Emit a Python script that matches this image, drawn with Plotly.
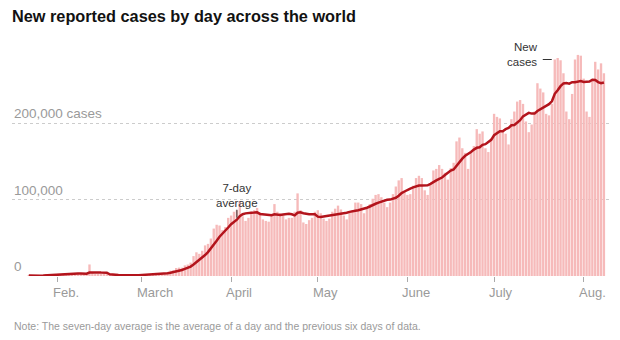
import pandas as pd
import plotly.graph_objects as go

# ---- data ----
start_date = "2020-01-22"
cases_jan = [580, 100, 290, 500, 680, 810, 2650, 590, 2070, 1690]
cases_feb = [2100, 2600, 3200, 3900, 3700, 3200, 3400, 2700, 3000, 2500, 2000,
             15100, 5100,
             2600, 2100, 2000, 1900, 1800, 550, 600, 1000, 1000, 450, 600, 900, 1000, 1300, 1300, 1800]
cases_mar = [1800, 1900, 2400, 2200, 2700, 4000, 3900, 3900, 3900, 4400, 7000, 7500, 10500, 11000,
             10900, 13900, 15000, 17500, 26000, 31000, 29000, 33000, 40000, 42000, 49000, 62000,
             67000, 66000, 60000, 64000, 76000]
cases_apr = [79000, 84000, 86000, 98000, 78000, 72000, 76000, 84000, 86000, 89000, 83000, 74000,
             72000, 71000, 81000, 94000, 84000, 82000, 79000, 74000, 76000, 76000, 84000, 108000,
             86000, 70000, 68000, 73000, 76000, 84000]
cases_may = [86000, 82000, 75000, 72000, 75000, 84000, 88000, 92000, 87000, 79000, 74000, 83000,
             86000, 96000, 96000, 94000, 82000, 88000, 94000, 101000, 106000, 107000, 103000, 96000,
             90000, 96000, 107000, 117000, 125000, 128000, 110000]
cases_jun = [106000, 107000, 118000, 128000, 131000, 128000, 112000, 106000, 120000, 138000, 140000,
             145000, 140000, 135000, 126000, 141000, 148000, 176000, 181000, 167000, 161000, 140000,
             162000, 170000, 192000, 186000, 189000, 167000, 162000, 180000]
cases_jul = [212000, 208000, 206000, 190000, 186000, 172000, 205000, 215000, 228000, 230000, 225000,
             202000, 188000, 198000, 215000, 252000, 245000, 240000, 212000, 210000, 225000, 283000,
             285000, 282000, 265000, 215000, 205000, 238000, 283000, 289000, 288000]
cases_aug = [258000, 215000, 208000, 255000, 280000, 270000, 278000, 265000]

month_ticks = ["2020-02-01", "2020-03-01", "2020-04-01", "2020-05-01", "2020-06-01", "2020-07-01", "2020-08-01"]
month_labels = ["Feb.", "March", "April", "May", "June", "July", "Aug."]
y_ticks = [0, 100000, 200000]
y_labels = ["0", "100,000", "200,000 cases"]

title_text = "New reported cases by day across the world"
note_text = "Note: The seven-day average is the average of a day and the previous six days of data."

# ---- derived ----
cases = cases_jan + cases_feb + cases_mar + cases_apr + cases_may + cases_jun + cases_jul + cases_aug
dates = pd.date_range(start_date, periods=len(cases), freq="D")
avg7 = pd.Series(cases).rolling(7, min_periods=1).mean()

BAR = "#f6baba"
LINE = "#b3141c"
GRAY = "#9a9a9a"
FONT = "Arial, Liberation Sans, sans-serif"

fig = go.Figure()
fig.add_bar(x=dates, y=cases, marker=dict(color=BAR, line=dict(width=0)), hoverinfo="skip")
fig.add_scatter(x=dates, y=avg7, mode="lines", line=dict(color=LINE, width=2.5), hoverinfo="skip")

# layout geometry
W, H = 620, 340
ml, mr, mt, mb = 12, 10, 45, 64
px_per_day = 2.89
first_x = 28.8
t0 = pd.Timestamp(start_date)
x_start = t0 - pd.Timedelta(days=(first_x - ml) / px_per_day)
x_end = x_start + pd.Timedelta(days=(W - ml - mr) / px_per_day)
plot_h = H - mt - mb
y_top = plot_h / 0.765 * 1000

annotations = []
for v, lab in zip(y_ticks, y_labels):
    annotations.append(dict(x=0, xref="paper", y=v, yref="y", text=lab, showarrow=False,
                            xanchor="left", yanchor="bottom", yshift=0,
                            font=dict(family=FONT, size=13.5, color=GRAY)))
for d, lab in zip(month_ticks, month_labels):
    annotations.append(dict(x=d, xref="x", y=-16 / plot_h, yref="paper", text=lab, showarrow=False,
                            xanchor="left", yanchor="middle", xshift=-7,
                            font=dict(family=FONT, size=13, color=GRAY)))
annotations.append(dict(x=0, xref="paper", y=-(326 - (H - mb)) / plot_h, yref="paper", text=note_text,
                        showarrow=False, xanchor="left", yanchor="middle",
                        font=dict(family=FONT, size=10.5, color=GRAY)))

# 7-day average label
i_avg = list(dates).index(pd.Timestamp("2020-04-03"))
annotations.append(dict(x=dates[i_avg], y=avg7[i_avg], xref="x", yref="y", text="7-day<br>average",
                        showarrow=False, xanchor="center", yanchor="bottom", yshift=9,
                        font=dict(family=FONT, size=11.5, color="#333333")))
# New cases label
i_new = list(dates).index(pd.Timestamp("2020-07-22"))
annotations.append(dict(x=dates[i_new], y=cases[i_new], xref="x", yref="y", text="New<br>cases",
                        showarrow=False, xanchor="right", yanchor="middle", align="right", xshift=-15, yshift=5,
                        font=dict(family=FONT, size=11.5, color="#333333")))

shapes = [
    dict(type="line", xref="x", yref="y", x0=dates[i_avg], x1=dates[i_avg], ysizemode="pixel",
         yanchor=avg7[i_avg], y0=2, y1=10, line=dict(color="#333333", width=1)),
    dict(type="line", xref="x", yref="y", xsizemode="pixel", xanchor=dates[i_new], x0=-12, x1=-3,
         y0=cases[i_new], y1=cases[i_new], line=dict(color="#333333", width=1)),
]

fig.update_layout(
    width=W, height=H,
    margin=dict(l=ml, r=mr, t=mt, b=mb, pad=0),
    paper_bgcolor="white", plot_bgcolor="white",
    showlegend=False, bargap=0.18,
    title=dict(text="<b>" + title_text + "</b>", x=12 / W, xanchor="left", xref="container",
               y=1 - 16 / H, yanchor="middle", yref="container",
               font=dict(family=FONT, size=16.3, color="#121212")),
    xaxis=dict(type="date", range=[x_start, x_end], tickvals=month_ticks, showticklabels=False,
               ticks="outside", ticklen=5, tickcolor="#aaaaaa", showgrid=False, zeroline=False,
               showline=False, fixedrange=True),
    yaxis=dict(range=[0, y_top], tickvals=y_ticks[1:], showticklabels=False, showgrid=True,
               gridcolor="#cccccc", griddash="dot", gridwidth=1, zeroline=False, showline=False,
               fixedrange=True),
    annotations=annotations,
    shapes=shapes,
)

fig.write_html("out.html", config={"displayModeBar": False})
